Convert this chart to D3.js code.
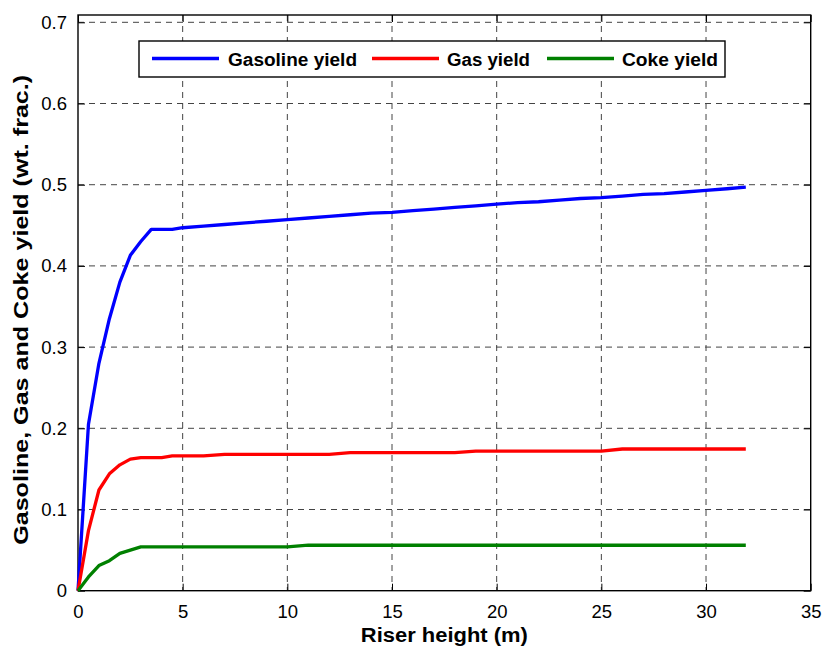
<!DOCTYPE html>
<html><head><meta charset="utf-8">
<script src="https://cdn.jsdelivr.net/npm/d3@7"></script>
<style>body{margin:0;background:#fff;} svg{display:block;font-family:Arial,"Liberation Sans",Helvetica,sans-serif;}</style>
</head><body><svg id="c" width="825" height="650"></svg>
<script>
// Riser height (m)
const riserHeight = [0,0.5,1,1.5,2,2.5,3,3.5,4,4.5,5,6,7,8,9,10,11,12,13,14,15,16,17,18,19,20,21,22,23,24,25,26,27,28,29,30,31,31.9];
const gasolineYield = [0,0.205,0.280,0.335,0.380,0.413,0.430,0.445,0.445,0.445,0.447,0.449,0.451,0.453,0.455,0.457,0.459,0.461,0.463,0.465,0.466,0.468,0.470,0.472,0.474,0.476,0.478,0.479,0.481,0.483,0.484,0.486,0.488,0.489,0.491,0.493,0.495,0.497];
const gasYield = [0,0.074,0.124,0.144,0.155,0.162,0.164,0.164,0.164,0.166,0.166,0.166,0.168,0.168,0.168,0.168,0.168,0.168,0.170,0.170,0.170,0.170,0.170,0.170,0.172,0.172,0.172,0.172,0.172,0.172,0.172,0.1745,0.1745,0.1745,0.1745,0.1745,0.1745,0.1745];
const cokeYield = [0,0.017,0.031,0.037,0.046,0.050,0.054,0.054,0.054,0.054,0.054,0.054,0.054,0.054,0.054,0.054,0.056,0.056,0.056,0.056,0.056,0.056,0.056,0.056,0.056,0.056,0.056,0.056,0.056,0.056,0.056,0.056,0.056,0.056,0.056,0.056,0.056,0.056];
const seriesNames = ["Gasoline yield","Gas yield","Coke yield"];
const seriesColors = ["#0000ff","#ff0000","#008000"];
const xTicks = [0,5,10,15,20,25,30,35];
const yTicks = [0,0.1,0.2,0.3,0.4,0.5,0.6,0.7];
const xLabel = "Riser height (m)";
const yLabel = "Gasoline, Gas and Coke yield (wt. frac.)";

const svg = d3.select("#c");
const L = 78, R = 810.7, T = 15, B = 590.7;
const x = d3.scaleLinear().domain([0,35]).range([L,R]);
const y = d3.scaleLinear().domain([0,0.709]).range([B,T]);

// grid
const grid = svg.append("g");
grid.selectAll(".gx").data(xTicks.filter(d=>d>0&&d<35)).join("line")
  .attr("x1",d=>x(d)).attr("x2",d=>x(d)).attr("y1",T).attr("y2",B)
  .attr("stroke","#444").attr("stroke-width",1).attr("stroke-dasharray","6,5");
grid.selectAll(".gy").data(yTicks.filter(d=>d>0)).join("line")
  .attr("x1",L).attr("x2",R).attr("y1",d=>y(d)).attr("y2",d=>y(d))
  .attr("stroke","#444").attr("stroke-width",1).attr("stroke-dasharray","6,5");

// axes
const xAx = svg.append("g").attr("transform",`translate(0,${B})`)
  .call(d3.axisBottom(x).tickValues(xTicks).tickFormat(d3.format("d")).tickSizeInner(-7).tickSizeOuter(0).tickPadding(14));
const xAxTop = svg.append("g").attr("transform",`translate(0,${T})`)
  .call(d3.axisTop(x).tickValues(xTicks).tickFormat("").tickSizeInner(-7).tickSizeOuter(0));
const yAx = svg.append("g").attr("transform",`translate(${L},0)`)
  .call(d3.axisLeft(y).tickValues(yTicks).tickFormat(d=>d===0?"0":d3.format(".1f")(d)).tickSizeInner(-7).tickSizeOuter(0).tickPadding(11));
const yAxR = svg.append("g").attr("transform",`translate(${R},0)`)
  .call(d3.axisRight(y).tickValues(yTicks).tickFormat("").tickSizeInner(-7).tickSizeOuter(0));
[xAx,xAxTop,yAx,yAxR].forEach(g=>{
  g.select(".domain").remove();
  g.selectAll("line").attr("stroke","#000");
  g.selectAll("text").attr("font-size",18.5).attr("fill","#000").attr("font-family","Arial,'Liberation Sans',sans-serif");
});
svg.append("rect").attr("x",L).attr("y",T).attr("width",R-L).attr("height",B-T)
  .attr("fill","none").attr("stroke","#000").attr("stroke-width",1.4);

// lines
const allSeries = [gasolineYield, gasYield, cokeYield];
const line = d3.line().x((d,i)=>x(riserHeight[i])).y(d=>y(d));
allSeries.forEach((s,k)=>{
  svg.append("path").datum(s).attr("d",line).attr("fill","none")
    .attr("stroke",seriesColors[k]).attr("stroke-width",3.3).attr("stroke-linejoin","round");
});

// legend
const lg = svg.append("g");
lg.append("rect").attr("x",139).attr("y",41).attr("width",586).attr("height",36)
  .attr("fill","#fff").attr("stroke","#000").attr("stroke-width",1.4);
const lgLineX = [152,372,547];
const lgTextX = [228,447,622];
const lgTextW = [129,83,96];
seriesNames.forEach((n,k)=>{
  lg.append("line").attr("x1",lgLineX[k]).attr("x2",lgLineX[k]+67).attr("y1",58.5).attr("y2",58.5)
    .attr("stroke",seriesColors[k]).attr("stroke-width",3.3);
  lg.append("text").attr("x",lgTextX[k]).attr("y",65.5).text(n)
    .attr("font-size",18).attr("font-weight","bold")
    .attr("textLength",lgTextW[k]).attr("lengthAdjust","spacingAndGlyphs");
});

// axis labels
svg.append("text").attr("x",(L+R)/2).attr("y",642).attr("text-anchor","middle")
  .attr("font-size",20).attr("font-weight","bold")
  .attr("textLength",167).attr("lengthAdjust","spacingAndGlyphs").text(xLabel);
svg.append("text").attr("transform",`translate(28,${(T+B)/2 + 7}) rotate(-90)`).attr("text-anchor","middle")
  .attr("font-size",20).attr("font-weight","bold")
  .attr("textLength",470).attr("lengthAdjust","spacingAndGlyphs").text(yLabel);
</script></body></html>
